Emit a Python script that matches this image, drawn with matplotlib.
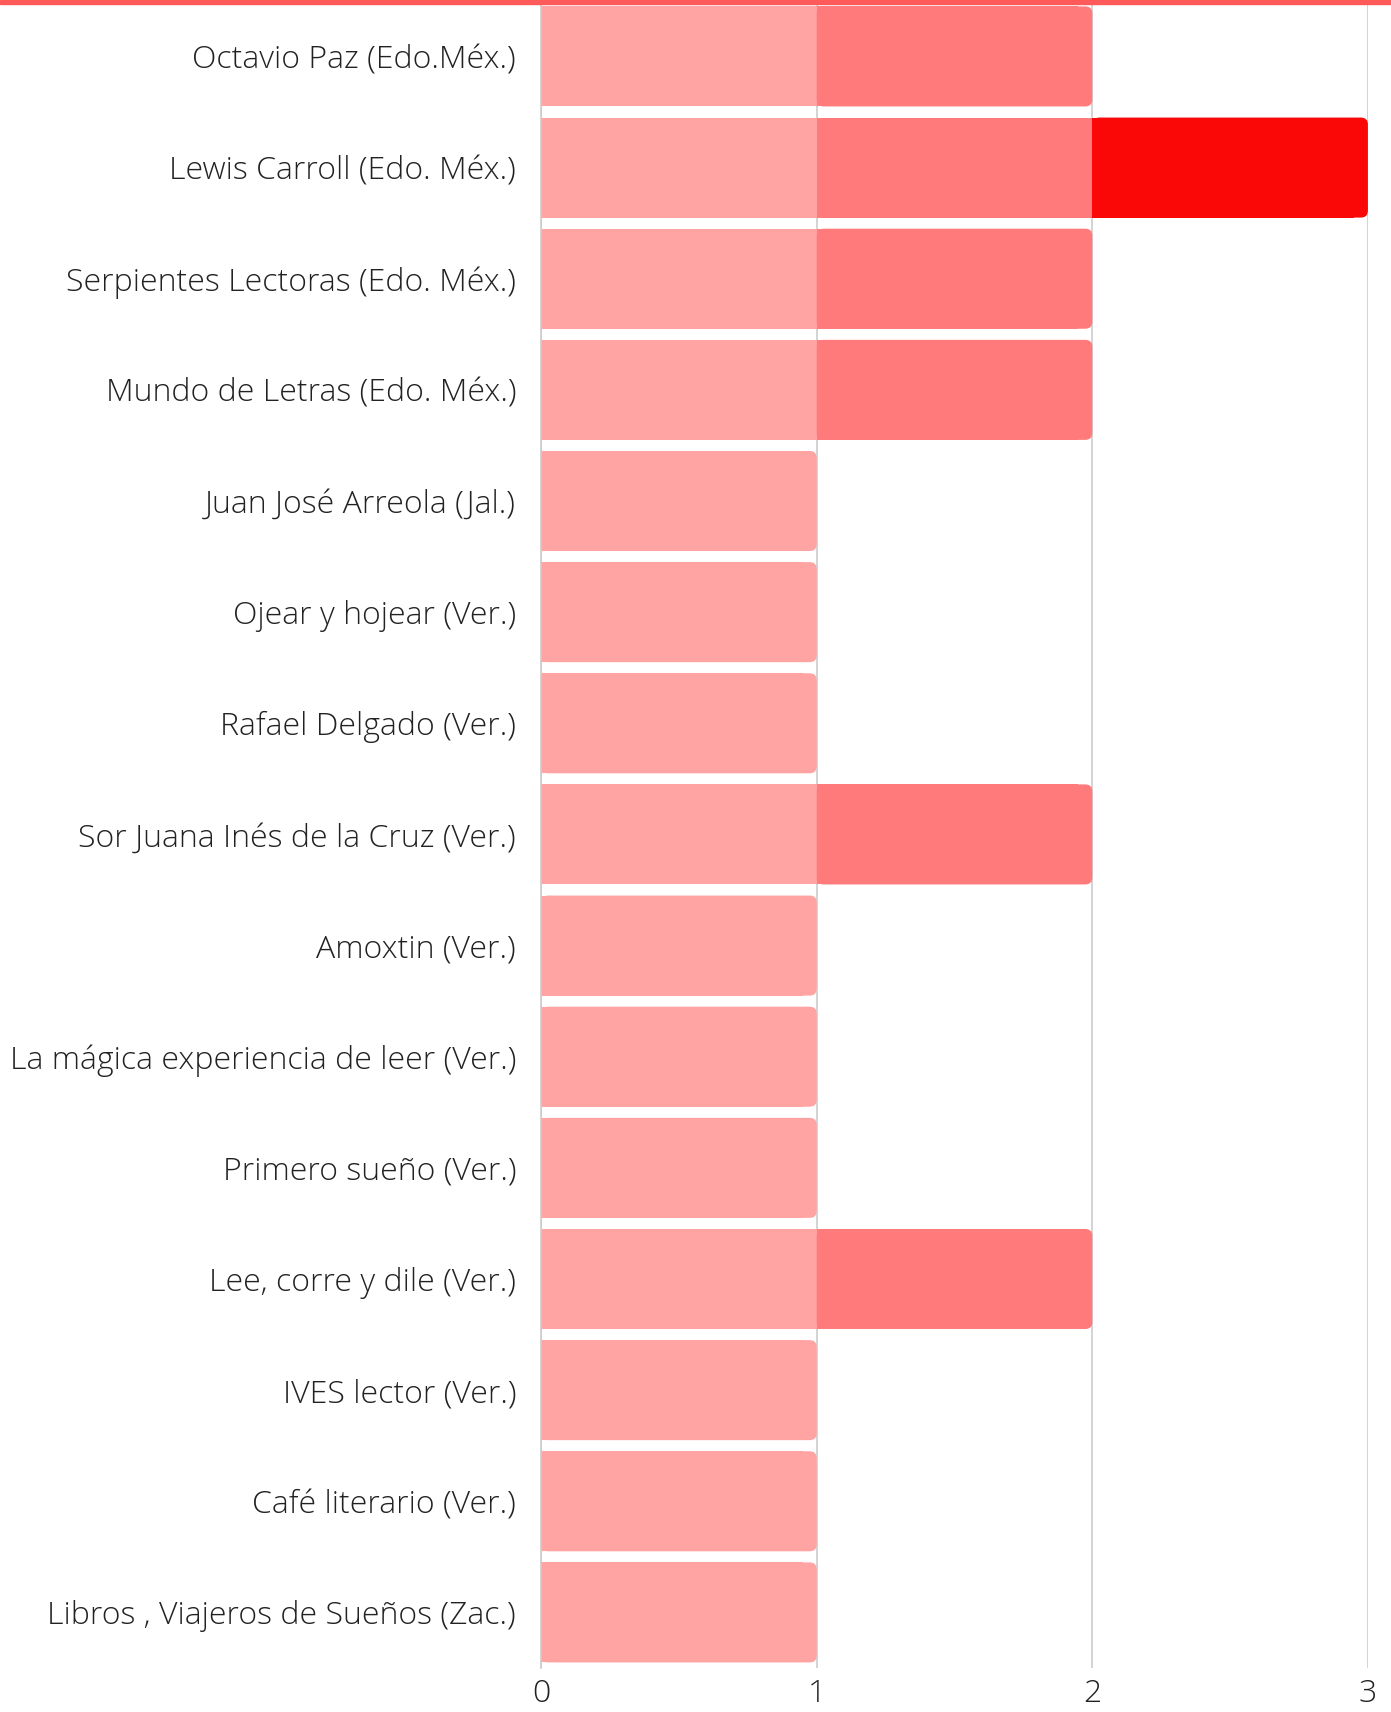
import matplotlib
matplotlib.use("Agg")
import matplotlib.pyplot as plt
from matplotlib.patches import FancyBboxPatch, Rectangle

# ---- data ----
categories = [
    "Octavio Paz (Edo.Méx.)",
    "Lewis Carroll (Edo. Méx.)",
    "Serpientes Lectoras (Edo. Méx.)",
    "Mundo de Letras (Edo. Méx.)",
    "Juan José Arreola (Jal.)",
    "Ojear y hojear (Ver.)",
    "Rafael Delgado (Ver.)",
    "Sor Juana Inés de la Cruz (Ver.)",
    "Amoxtin (Ver.)",
    "La mágica experiencia de leer (Ver.)",
    "Primero sueño (Ver.)",
    "Lee, corre y dile (Ver.)",
    "IVES lector (Ver.)",
    "Café literario (Ver.)",
    "Libros , Viajeros de Sueños (Zac.)",
]
serie_1 = [1, 1, 1, 1, 1, 1, 1, 1, 1, 1, 1, 1, 1, 1, 1]
serie_2 = [1, 1, 1, 1, 0, 0, 0, 1, 0, 0, 0, 1, 0, 0, 0]
serie_3 = [0, 1, 0, 0, 0, 0, 0, 0, 0, 0, 0, 0, 0, 0, 0]
x_ticks = [0, 1, 2, 3]

colors = ["#FFA3A3", "#FF7A7A", "#FA0808"]
BAR_H = 0.9

plt.rcParams["font.family"] = ["Open Sans", "DejaVu Sans"]

fig = plt.figure(figsize=(13.91, 17.12), dpi=100)
ax_bottom = 0.0257
ax = fig.add_axes([0.389, ax_bottom, 0.9834 - 0.389, 0.9995 - ax_bottom])

series = [serie_1, serie_2, serie_3]
# data-to-pixel aspect for the rounded ends
x_px = (0.9834 - 0.389) * 1391 / 3.0
y_px = (0.9995 - ax_bottom) * 1712 / len(categories)
r_x = 7.0 / x_px
aspect = x_px / y_px

for i, cat in enumerate(categories):
    left = 0
    vals = [s[i] for s in series]
    last = max(k for k, v in enumerate(vals) if v > 0)
    for k, v in enumerate(vals):
        if v <= 0:
            continue
        if k == last:
            box = FancyBboxPatch((left, i - BAR_H / 2), v, BAR_H,
                                 boxstyle=f"round,pad=0,rounding_size={r_x}",
                                 mutation_aspect=aspect,
                                 facecolor=colors[k], edgecolor="none", zorder=2)
            ax.add_patch(box)
            ax.barh(i, v - 2 * r_x, left=left, height=BAR_H,
                    color=colors[k], linewidth=0, zorder=2)
        else:
            ax.barh(i, v, left=left, height=BAR_H,
                    color=colors[k], linewidth=0, zorder=2)
        left += v

ax.set_xlim(0, 3)
ax.set_ylim(len(categories) - 0.5, -0.5)
ax.set_yticks(range(len(categories)))
ax.set_yticklabels(categories, fontsize=23, color="#222222", fontweight="light")
ax.set_xticks(x_ticks)
ax.set_xticklabels([str(t) for t in x_ticks], fontsize=23, color="#222222",
                   fontweight="light")
ax.tick_params(axis="both", length=0)
ax.tick_params(axis="y", pad=18)
ax.tick_params(axis="x", pad=7)

ax.xaxis.grid(True, color="#CCCCCC", linewidth=1.2, zorder=0)
ax.set_axisbelow(True)
for s in ["top", "right", "bottom"]:
    ax.spines[s].set_visible(False)
ax.spines["left"].set_color("#CCCCCC")
ax.spines["left"].set_linewidth(1.2)

# thin red band along the top edge
fig.patches.append(Rectangle((0, 1 - 4 / 1712), 1, 4 / 1712,
                             transform=fig.transFigure, color="#FF5A5A",
                             zorder=10))

fig.savefig("out.png", dpi=100)
